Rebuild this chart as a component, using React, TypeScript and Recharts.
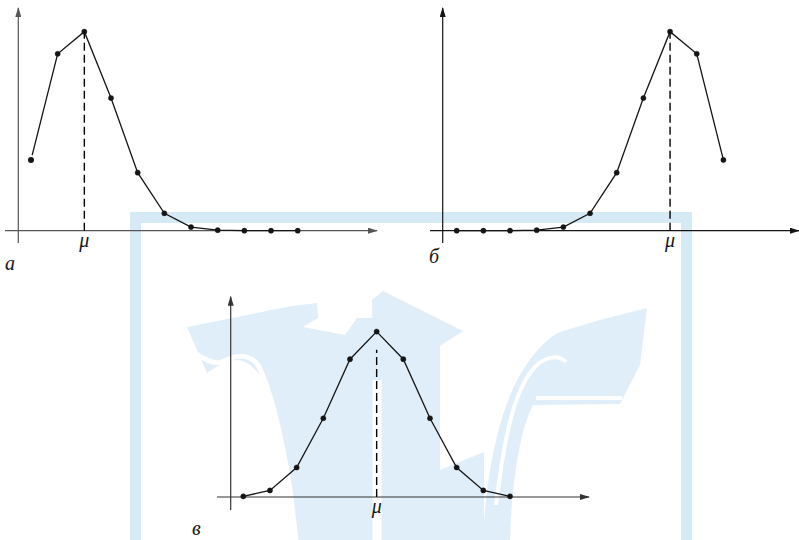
import { LineChart, Line, XAxis, YAxis, ReferenceLine, ReferenceDot } from "recharts"

// binomial distributions, n = 10
const ks = [0, 1, 2, 3, 4, 5, 6, 7, 8, 9, 10]
const probLow = [0.1074, 0.2684, 0.302, 0.2013, 0.0881, 0.0264, 0.0055, 0.0008, 0.0001, 0.0, 0.0]
const probHigh = [0.0, 0.0, 0.0001, 0.0008, 0.0055, 0.0264, 0.0881, 0.2013, 0.302, 0.2684, 0.1074]
const probHalf = [0.001, 0.0098, 0.0439, 0.1172, 0.2051, 0.2461, 0.2051, 0.1172, 0.0439, 0.0098, 0.001]
const muLabel = "μ"
const letters = ["а", "б", "в"]

const INK = "#151515"
const WASH = "#d6eaf6"
const WASH_LIGHT = "#dfeef8"
const SERIF = "'Liberation Serif', 'DejaVu Serif', serif"

type PanelProps = {
  id: string
  values: number[]
  left: number
  top: number
  width: number
  height: number
  x0: number
  step: number
  base: number
  unit: number
  xAxis: [number, number]
  yAxisAt: number
  yAxis: [number, number]
  dashTop: number
  axisColor: string
}

function Panel(p: PanelProps) {
  const data = ks.map((k, i) => ({ k, p: p.values[i] }))
  const toK = (px: number) => (px - p.x0) / p.step
  const toV = (py: number) => (p.base - py) / p.unit
  const xDomain = [toK(p.left), toK(p.left + p.width)]
  const yDomain = [toV(p.top + p.height), toV(p.top)]
  const peak = Math.max(...p.values)
  const peakK = ks[p.values.indexOf(peak)]
  const marker = `arrow-${p.id}`

  const arrow = (props: any) => (
    <line
      x1={props.x1}
      y1={props.y1}
      x2={props.x2}
      y2={props.y2}
      stroke={p.axisColor}
      strokeWidth={1.2}
      markerEnd={`url(#${marker})`}
    />
  )

  return (
    <div style={{ position: "absolute", left: p.left, top: p.top }}>
      <LineChart
        width={p.width}
        height={p.height}
        data={data}
        margin={{ top: 0, right: 0, bottom: 0, left: 0 }}
      >
        <defs>
          <marker
            id={marker}
            viewBox="0 0 10 6"
            refX="9"
            refY="3"
            markerWidth="10"
            markerHeight="6"
            markerUnits="userSpaceOnUse"
            orient="auto"
          >
            <path d="M0,0 L10,3 L0,6 Z" fill={p.axisColor} />
          </marker>
        </defs>
        <XAxis type="number" dataKey="k" domain={xDomain} allowDataOverflow hide />
        <YAxis type="number" domain={yDomain} allowDataOverflow hide />
        <ReferenceLine
          segment={[
            { x: toK(p.xAxis[0]), y: 0 },
            { x: toK(p.xAxis[1]), y: 0 },
          ]}
          ifOverflow="visible"
          shape={arrow}
        />
        <ReferenceLine
          segment={[
            { x: toK(p.yAxisAt), y: toV(p.yAxis[0]) },
            { x: toK(p.yAxisAt), y: toV(p.yAxis[1]) },
          ]}
          ifOverflow="visible"
          shape={arrow}
        />
        <ReferenceLine
          segment={[
            { x: peakK, y: 0 },
            { x: peakK, y: p.dashTop },
          ]}
          ifOverflow="visible"
          stroke="#000"
          strokeWidth={1.4}
          strokeDasharray="8 4"
        />
        <ReferenceDot
          x={peakK}
          y={0}
          r={0}
          ifOverflow="visible"
          label={{
            value: muLabel,
            position: "bottom",
            offset: 2,
            fill: INK,
            fontSize: 20,
            style: { fontStyle: "italic", fontFamily: SERIF },
          }}
        />
        <Line
          dataKey="p"
          type="linear"
          stroke={INK}
          strokeWidth={1.3}
          dot={{ r: 2.6, fill: INK, stroke: INK, strokeWidth: 0.4 }}
          isAnimationActive={false}
        />
      </LineChart>
    </div>
  )
}

// pale publisher mark behind the lower panel
function Watermark() {
  return (
    <svg
      width={799}
      height={540}
      style={{ position: "absolute", left: 0, top: 0 }}
    >
      <rect x={135.5} y={217.5} width={551} height={330} fill="none" stroke={WASH} strokeWidth={11} />
      <g fill={WASH_LIGHT}>
        {/* left arm with its wing tip */}
        <path d="M187,327 L292,306 L317,303 L318,318 L303,327 L345,335 L357,318 L377,318 L377,540 L298,540 C292,480 284,430 270,395 C262,375 252,362 238,360 C225,360 215,368 207,373 Z" />
        {/* arrow head and shaft */}
        <path d="M372,300 L383,291 L463,331 L440,346 L440,540 L377,540 Z" />
        <path d="M440,470 L484,452 L484,540 L440,540 Z" />
        {/* right wing */}
        <path d="M483,540 C486,470 500,410 520,375 C535,350 548,338 560,332 L600,320 L647,308 L640,365 L620,404 L533,405 C520,430 512,480 510,540 Z" />
      </g>
      <g fill="none" stroke="#ffffff">
        <path strokeWidth={5} d="M183,345 C200,356 212,366 222,362 C235,355 248,352 258,365 C272,392 282,440 290,490 L296,540" />
        <path strokeWidth={9} d="M377,380 L377,540" />
        <path strokeWidth={4} d="M536,398 L622,398" />
        <path strokeWidth={4} d="M496,505 C504,440 514,385 538,364 C550,355 560,356 566,362" />
      </g>
      <g fill={INK} fontSize={20} style={{ fontStyle: "italic", fontFamily: SERIF }}>
        <text x={5} y={270}>{letters[0]}</text>
        <text x={429} y={263}>{letters[1]}</text>
        <text x={192} y={535}>{letters[2]}</text>
      </g>
    </svg>
  )
}

export default function App() {
  return (
    <div style={{ position: "absolute", left: 0, top: 0, width: 799, height: 540, background: "#fff" }}>
      <Watermark />
      <Panel
        id="low"
        values={probLow}
        left={0}
        top={0}
        width={400}
        height={280}
        x0={31}
        step={26.67}
        base={230.7}
        unit={659}
        xAxis={[5, 377]}
        yAxisAt={18.3}
        yAxis={[243, 8]}
        dashTop={0.302}
        axisColor="#555"
      />
      <Panel
        id="high"
        values={probHigh}
        left={400}
        top={0}
        width={399}
        height={280}
        x0={456.7}
        step={26.67}
        base={230.7}
        unit={659}
        xAxis={[430, 799]}
        yAxisAt={442.7}
        yAxis={[243, 8]}
        dashTop={0.302}
        axisColor={INK}
      />
      <Panel
        id="half"
        values={probHalf}
        left={180}
        top={280}
        width={440}
        height={260}
        x0={243.3}
        step={26.67}
        base={497}
        unit={672}
        xAxis={[217, 589]}
        yAxisAt={230.7}
        yAxis={[510, 296.7]}
        dashTop={0.219}
        axisColor="#333"
      />
    </div>
  )
}
